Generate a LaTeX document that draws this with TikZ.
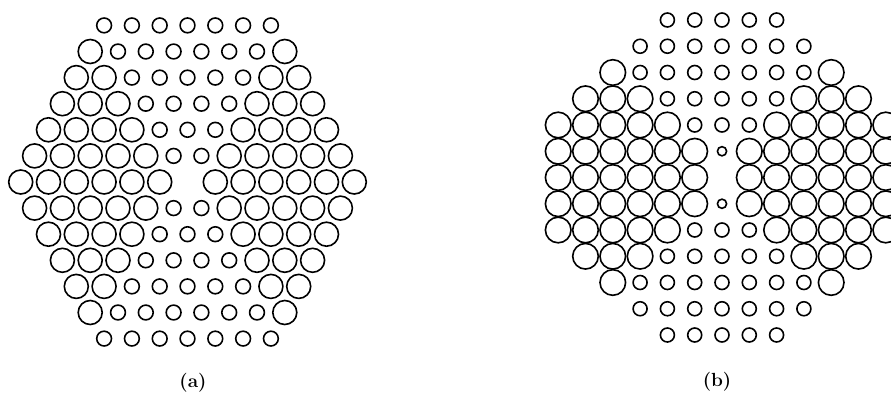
\documentclass[tikz,border=0pt]{standalone}
\usepackage{tikz}

\begin{document}
\begin{tikzpicture}[x=1pt,y=-1pt,line width=1.6pt,
  lbl/.style={font=\fontsize{19}{23}\selectfont\bfseries}]
\clip (0,0) rectangle (891,396);
\coordinate (A) at (187.5,182); \coordinate (B) at (722,177.5);
\foreach \r in {-6,...,6} {
  \pgfmathtruncatemacro\n{12-abs(\r)}
  \foreach \k in {0,...,\n} {
    \pgfmathtruncatemacro\m{2*\k-\n}
    \pgfmathsetmacro\rad{(\r==0 && \m==0) ? 0 : (abs(\m)<=abs(\r) ? 7.4 : 12)}
    \ifdim\rad pt>0pt \draw[shift={(A)}] (\m*13.9,\r*26.1) circle[radius=\rad pt]; \fi
  }
}
\foreach \r in {-6,...,6} {
  \pgfmathtruncatemacro\h{min(6,8-abs(\r))}
  \pgfmathtruncatemacro\hh{-\h}
  \foreach \j in {\hh,...,\h} {
    \pgfmathsetmacro\rad{(\r==0 && \j==0) ? 0 : ((abs(\r)==1 && \j==0) ? 4.6 : (abs(\j)<abs(\r) ? 7 : 12.8))}
    \ifdim\rad pt>0pt \draw[shift={(B)}] (\j*27.3,\r*26.25) circle[radius=\rad pt]; \fi
  }
}
\node[lbl] (la) at (193,383) {(a)};
\node[lbl] (lb) at (717,382) {(b)};
\end{tikzpicture}
\end{document}
